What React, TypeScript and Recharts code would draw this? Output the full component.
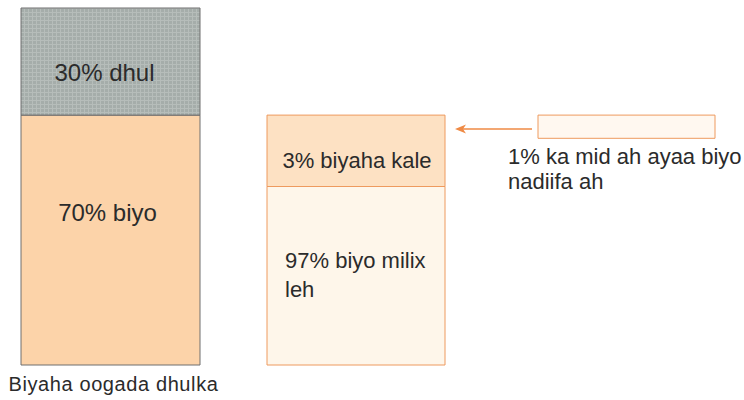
import { BarChart, Bar, XAxis, YAxis, LabelList } from 'recharts';

// left column: all water on earth's surface
const earthCategory = ['Biyaha oogada dhulka'];
const earthValues = [70, 30]; // biyo, dhul
const earthLabels = ['70% biyo', '30% dhul'];

// middle column: the 70% water split (heights as drawn, same scale as the left column)
const waterValues = [50, 20]; // milix, kale
const waterLabels = [['97% biyo milix', 'leh'], ['3% biyaha kale']];

// right box: the fresh part, floating near the top of the water column
const freshValues = [63.5, 6.5]; // offset, box
const freshLabel = ['1% ka mid ah ayaa biyo', 'nadiifa ah'];

const earthData = [{ name: earthCategory[0], biyo: earthValues[0], dhul: earthValues[1] }];
const waterData = [{ name: 'biyo', milix: waterValues[0], kale: waterValues[1] }];
const freshData = [{ name: 'nadiif', base: freshValues[0], box: freshValues[1] }];

const FONT = '"Liberation Sans", Arial, sans-serif';
const INK = '#2b2b2b';
const ORANGE = '#ee9a5e';

export default function App() {
  return (
    <div style={{ position: 'absolute', left: 0, top: 0, width: 744, height: 400, background: '#fff' }}>
      <div style={{ position: 'absolute', left: 0, top: 0 }}>
        <BarChart width={250} height={400} data={earthData} margin={{ top: 8, right: 50, bottom: 0, left: 21 }} barCategoryGap={0}>
          <defs>
            <pattern id="grit" width="4" height="4" patternUnits="userSpaceOnUse">
              <rect width="4" height="4" fill="#a5adaa" />
              <rect width="4" height="1" fill="#b6bdba" />
              <rect width="1" height="4" fill="#b6bdba" />
            </pattern>
          </defs>
          <XAxis
            dataKey="name"
            axisLine={false}
            tickLine={false}
            tickSize={0}
            tickMargin={12}
            interval={0}
            height={35}
            tick={{ fontSize: 20, fill: INK, fontFamily: FONT, letterSpacing: 0.6, dx: 3 }}
          />
          <YAxis hide domain={[0, 100]} />
          <Bar dataKey="biyo" stackId="e" fill="#fcd3a9" stroke="#6e6e6e" strokeWidth={1} isAnimationActive={false}>
            <LabelList
              dataKey="biyo"
              content={(p: any) => (
                <text x={p.x + p.width / 2 - 3} y={p.y + 106} textAnchor="middle" fontSize={24} fontFamily={FONT} fill={INK}>
                  {earthLabels[0]}
                </text>
              )}
            />
          </Bar>
          <Bar dataKey="dhul" stackId="e" fill="url(#grit)" stroke="#6e6e6e" strokeWidth={1} isAnimationActive={false}>
            <LabelList
              dataKey="dhul"
              content={(p: any) => (
                <text x={p.x + p.width / 2 - 6} y={p.y + 73} textAnchor="middle" fontSize={24} fontFamily={FONT} fill={INK}>
                  {earthLabels[1]}
                </text>
              )}
            />
          </Bar>
        </BarChart>
      </div>

      <div style={{ position: 'absolute', left: 263, top: 0 }}>
        <BarChart width={186} height={400} data={waterData} margin={{ top: 8, right: 4, bottom: 35, left: 4 }} barCategoryGap={0}>
          <XAxis dataKey="name" hide />
          <YAxis hide domain={[0, 100]} />
          <Bar dataKey="milix" stackId="w" fill="#fef6ea" stroke={ORANGE} strokeWidth={1} isAnimationActive={false}>
            <LabelList
              dataKey="milix"
              content={(p: any) => (
                <text fontSize={22} fontFamily={FONT} fill={INK}>
                  {waterLabels[0].map((line, i) => (
                    <tspan key={i} x={p.x + 18} y={p.y + 81 + i * 29}>
                      {line}
                    </tspan>
                  ))}
                </text>
              )}
            />
          </Bar>
          <Bar dataKey="kale" stackId="w" fill="#fde1c3" stroke={ORANGE} strokeWidth={1} isAnimationActive={false}>
            <LabelList
              dataKey="kale"
              content={(p: any) => (
                <text x={p.x + p.width / 2 + 1} y={p.y + 53} textAnchor="middle" fontSize={22} fontFamily={FONT} fill={INK}>
                  {waterLabels[1][0]}
                </text>
              )}
            />
          </Bar>
        </BarChart>
      </div>

      <div style={{ position: 'absolute', left: 450, top: 0 }}>
        <BarChart width={294} height={400} data={freshData} margin={{ top: 8, right: 29, bottom: 35, left: 88 }} barCategoryGap={0}>
          <XAxis dataKey="name" hide />
          <YAxis hide domain={[0, 100]} />
          <Bar dataKey="base" stackId="f" fill="none" isAnimationActive={false} />
          <Bar dataKey="box" stackId="f" fill="#fff8f0" stroke={ORANGE} strokeWidth={1} isAnimationActive={false}>
            <LabelList
              dataKey="box"
              content={(p: any) => (
                <g>
                  <line x1={p.x - 6} y1={p.y + 14} x2={p.x - 78} y2={p.y + 14} stroke="#ef8a45" strokeWidth={1.5} />
                  <path d={`M${p.x - 83} ${p.y + 14} L${p.x - 72} ${p.y + 9.5} L${p.x - 75} ${p.y + 14} L${p.x - 72} ${p.y + 18.5} Z`} fill="#ef8a45" />
                  <text fontSize={22} fontFamily={FONT} fill={INK}>
                    {freshLabel.map((line, i) => (
                      <tspan key={i} x={p.x - 30} y={p.y + 49 + i * 25}>
                        {line}
                      </tspan>
                    ))}
                  </text>
                </g>
              )}
            />
          </Bar>
        </BarChart>
      </div>
    </div>
  );
}
